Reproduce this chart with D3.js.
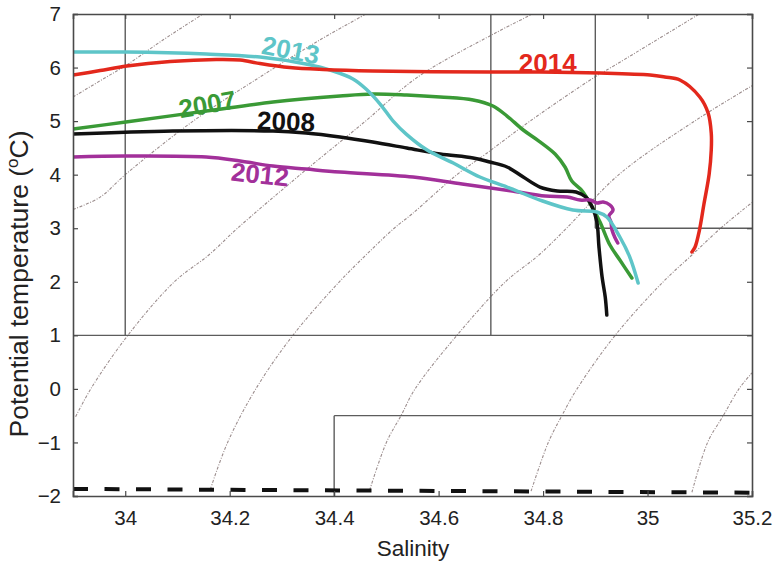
<!DOCTYPE html>
<html>
<head>
<meta charset="utf-8">
<script src="https://cdn.jsdelivr.net/npm/d3@7"></script>
<style>
  html, body { margin: 0; padding: 0; background: #fff; }
  svg { display: block; font-family: "Liberation Sans", Arial, sans-serif; }
</style>
</head>
<body>
<svg id="chart" width="777" height="561"></svg>
<script>
// Axis ticks
const salinityTicks = [34, 34.2, 34.4, 34.6, 34.8, 35, 35.2];
const tempTicks = [-2, -1, 0, 1, 2, 3, 4, 5, 6, 7];

// Theta-S profiles, [salinity, potential temperature]
const profile2014 = [[33.9,5.86],[33.952,5.944],[34.003,6.028],[34.086,6.112],[34.174,6.15],[34.22,6.14],[34.258,6.075],[34.315,6.0],[34.379,5.963],[34.474,5.935],[34.698,5.916],[34.794,5.916],[34.909,5.897],[35.005,5.86],[35.033,5.823],[35.062,5.767],[35.1,5.45],[35.116,5.15],[35.122,4.777],[35.122,4.46],[35.118,4.012],[35.108,3.452],[35.099,2.948],[35.091,2.649],[35.085,2.556]];
const profile2013 = [[33.9,6.29],[34.001,6.29],[34.155,6.252],[34.258,6.196],[34.346,6.066],[34.398,5.935],[34.436,5.786],[34.461,5.599],[34.488,5.319],[34.513,5.001],[34.538,4.758],[34.578,4.46],[34.628,4.217],[34.679,3.956],[34.731,3.769],[34.794,3.526],[34.857,3.34],[34.903,3.303],[34.922,3.209],[34.947,2.836],[34.966,2.462],[34.982,1.977]];
const profile2007 = [[33.9,4.852],[34.001,4.983],[34.155,5.188],[34.283,5.356],[34.411,5.468],[34.474,5.506],[34.539,5.487],[34.603,5.45],[34.666,5.394],[34.704,5.282],[34.731,5.095],[34.762,4.834],[34.792,4.628],[34.823,4.386],[34.842,4.143],[34.855,3.881],[34.875,3.695],[34.894,3.396],[34.909,3.116],[34.928,2.686],[34.947,2.406],[34.97,2.07]];
const profile2008 = [[33.9,4.759],[34.091,4.815],[34.283,4.815],[34.346,4.777],[34.411,4.703],[34.474,4.609],[34.539,4.497],[34.603,4.386],[34.666,4.311],[34.698,4.236],[34.731,4.143],[34.762,3.956],[34.794,3.769],[34.827,3.695],[34.863,3.676],[34.882,3.583],[34.894,3.396],[34.903,3.116],[34.907,2.649],[34.913,2.089],[34.919,1.715],[34.922,1.379]];
const profile2012 = [[33.9,4.329],[34.001,4.348],[34.155,4.329],[34.22,4.255],[34.283,4.161],[34.346,4.105],[34.411,4.049],[34.551,3.956],[34.645,3.825],[34.741,3.695],[34.804,3.601],[34.846,3.583],[34.871,3.526],[34.89,3.526],[34.903,3.47],[34.915,3.489],[34.928,3.433],[34.934,3.34],[34.926,3.228],[34.93,3.116],[34.932,2.966],[34.938,2.817],[34.943,2.724]];

const years = ["2007", "2008", "2012", "2013", "2014"];
const yearColors = ["#3a9a36", "#111111", "#a2309a", "#5ec5c8", "#e3281c"];

// Isopycnal contours, [salinity, potential temperature]
const iso1 = [[33.9,5.45],[33.96,5.8],[34.003,6.05],[34.07,6.5],[34.149,7]];
const iso2 = [[33.9,3.35],[33.952,3.58],[34.0,4],[34.13,5],[34.258,5.823],[34.37,6.5],[34.461,7]];
const iso3 = [[33.905,-0.52],[33.934,0],[34.005,1],[34.094,2],[34.16,2.5],[34.215,3],[34.335,4],[34.46,5],[34.56,5.823],[34.705,6.626],[34.78,7]];
const iso4 = [[34.163,-1.875],[34.196,-1],[34.25,0],[34.321,1],[34.41,2],[34.461,2.5],[34.515,3],[34.549,3.265],[34.635,4],[34.69,4.385],[34.775,5],[34.899,5.823],[34.93,6],[35.099,7]];
const iso5 = [[34.468,-1.89],[34.5,-1],[34.528,-0.5],[34.555,0],[34.635,1],[34.728,2],[34.792,2.5],[34.845,3],[34.945,4],[35.09,5],[35.2,5.66]];
const iso6 = [[34.777,-1.91],[34.81,-1],[34.836,-0.5],[34.865,0],[34.938,1],[35.03,2],[35.085,2.5],[35.14,3],[35.2,3.48]];
const iso7 = [[35.085,-1.93],[35.115,-1],[35.145,-0.5],[35.175,0],[35.2,0.3]];

// Water-mass boundary segments
const boundaries = [
  [[34, 1], [34, 7]],
  [[34.7, 1], [34.7, 7]],
  [[34.9, 3], [34.9, 7]],
  [[34.9, 3], [35.2, 3]],
  [[33.9, 1], [35.2, 1]],
  [[34.4, -2], [34.4, -0.5]],
  [[34.4, -0.5], [35.2, -0.5]]
];

// Surface freezing point line
const freezing = [[33.9, -1.868], [35.2, -1.938]];

// Year label anchors (salinity, temperature) and rotation in degrees
const labelS = [34.157, 34.308, 34.258, 34.317, 34.809];
const labelT = [5.32, 5.0, 4.01, 6.33, 6.10];
const labelRot = [-10, 2, 6, 11, 0];

const width = 777, height = 561;
const margin = {top: 14, right: 25, bottom: 65, left: 73};

const svg = d3.select("#chart");

const x = d3.scaleLinear().domain([33.9, 35.2]).range([margin.left, width - margin.right]);
const y = d3.scaleLinear().domain([-2, 7]).range([height - margin.bottom, margin.top]);

svg.append("defs").append("clipPath").attr("id", "plotClip")
  .append("rect")
  .attr("x", margin.left).attr("y", margin.top)
  .attr("width", x(35.2) - x(33.9)).attr("height", y(-2) - y(7));

const line = d3.line().x(d => x(d[0])).y(d => y(d[1]));
const smoothLine = d3.line().x(d => x(d[0])).y(d => y(d[1])).curve(d3.curveCatmullRom.alpha(0.5));

const plot = svg.append("g").attr("clip-path", "url(#plotClip)");

// Isopycnals
plot.append("g")
  .selectAll("path")
  .data([iso1, iso2, iso3, iso4, iso5, iso6, iso7])
  .join("path")
  .attr("d", smoothLine)
  .attr("fill", "none")
  .attr("stroke", "#9c8e8e")
  .attr("stroke-width", 1.1)
  .attr("stroke-dasharray", "3,1.5,1,1.5");

// Boundaries
plot.append("g")
  .selectAll("path")
  .data(boundaries)
  .join("path")
  .attr("d", line)
  .attr("fill", "none")
  .attr("stroke", "#5c5c5c")
  .attr("stroke-width", 1.4);

// Freezing line
plot.append("path")
  .datum(freezing)
  .attr("d", line)
  .attr("fill", "none")
  .attr("stroke", "#111")
  .attr("stroke-width", 4)
  .attr("stroke-dasharray", "15,16.5");

// Profiles
const profiles = [profile2007, profile2008, profile2012, profile2013, profile2014];
plot.append("g")
  .selectAll("path")
  .data(profiles)
  .join("path")
  .attr("d", smoothLine)
  .attr("fill", "none")
  .attr("stroke", (d, i) => yearColors[i])
  .attr("stroke-width", 3.5)
  .attr("stroke-linejoin", "round")
  .attr("stroke-linecap", "round");

// Year labels
svg.append("g")
  .selectAll("text")
  .data(years)
  .join("text")
  .attr("transform", (d, i) => `translate(${x(labelS[i])},${y(labelT[i])}) rotate(${labelRot[i]})`)
  .attr("text-anchor", "middle")
  .attr("dy", "0.36em")
  .attr("font-weight", "bold")
  .attr("font-size", 26)
  .attr("fill", (d, i) => yearColors[i])
  .text(d => d);

// Axes with inward ticks
const frameColor = "#4a4a4a";
const xAxis = svg.append("g")
  .attr("transform", `translate(0,${y(-2)})`)
  .call(d3.axisBottom(x).tickValues(salinityTicks).tickSize(-5).tickPadding(14)
    .tickFormat(d3.format("~g")));
const xAxisTop = svg.append("g")
  .attr("transform", `translate(0,${y(7)})`)
  .call(d3.axisTop(x).tickValues(salinityTicks).tickSize(-5).tickFormat(""));
const yAxis = svg.append("g")
  .attr("transform", `translate(${x(33.9)},0)`)
  .call(d3.axisLeft(y).tickValues(tempTicks).tickSize(-5).tickPadding(12)
    .tickFormat(d3.format("d")));
const yAxisRight = svg.append("g")
  .attr("transform", `translate(${x(35.2)},0)`)
  .call(d3.axisRight(y).tickValues(tempTicks).tickSize(-5).tickFormat(""));

[xAxis, xAxisTop, yAxis, yAxisRight].forEach(g => {
  g.select(".domain").attr("stroke", frameColor).attr("stroke-width", 1.6);
  g.selectAll(".tick line").attr("stroke", frameColor).attr("stroke-width", 1.2);
  g.selectAll(".tick text")
    .attr("font-family", "'Liberation Sans', Arial, sans-serif")
    .attr("font-size", 20.5).attr("fill", "#222");
});

// Axis titles
svg.append("text")
  .attr("x", x(34.551)).attr("y", 556)
  .attr("text-anchor", "middle")
  .attr("font-size", 22.5).attr("fill", "#222")
  .text("Salinity");

const yTitle = svg.append("text")
  .attr("transform", `translate(28,284) rotate(-90)`)
  .attr("text-anchor", "middle")
  .attr("font-size", 26.5).attr("fill", "#222");
yTitle.append("tspan").text("Potential temperature (");
yTitle.append("tspan").attr("font-size", 17).attr("dy", -10).text("o");
yTitle.append("tspan").attr("dy", 10).text("C)");
</script>
</body>
</html>
